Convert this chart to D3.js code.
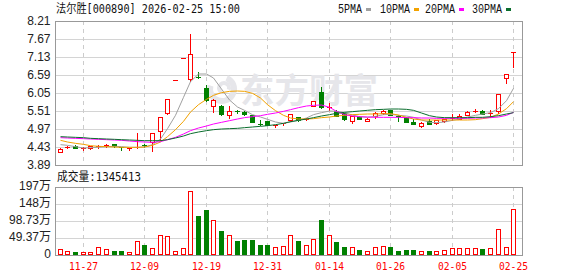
<!DOCTYPE html>
<html>
<head>
<meta charset="utf-8">
<script src="https://cdn.jsdelivr.net/npm/d3@7"></script>
<style>
  body { margin: 0; background: #fff; }
  svg { display: block; }
</style>
</head>
<body>
<div id="chart"></div>
<script>
// trading days shown on the chart
const dates = ['11-24','11-25','11-26','11-27','11-28','12-01','12-02','12-03','12-04','12-05',
  '12-08','12-09','12-10','12-11','12-12','12-15','12-16','12-17','12-18','12-19',
  '12-22','12-23','12-24','12-25','12-26','12-29','12-30','12-31','01-05','01-06',
  '01-07','01-08','01-09','01-12','01-13','01-14','01-15','01-16','01-19','01-20',
  '01-21','01-22','01-23','01-26','01-27','01-28','01-29','01-30','02-02','02-03',
  '02-04','02-05','02-06','02-09','02-10','02-11','02-12','02-13','02-24','02-25'];

// daily prices
const open = [4.27,4.41,4.46,4.38,4.39,4.43,4.45,4.51,4.43,4.38,
  4.41,4.50,4.59,4.91,5.44,6.45,7.10,6.47,6.52,6.19,
  5.67,5.66,5.39,5.50,5.49,5.39,5.13,5.21,5.07,5.12,
  5.24,5.32,5.25,5.67,6.09,5.62,5.52,5.44,5.22,5.34,
  5.22,5.37,5.44,5.54,5.37,5.32,5.17,5.07,5.20,5.14,
  5.21,5.26,5.28,5.40,5.50,5.52,5.44,5.50,6.50,7.27];
const high = [4.39,4.46,4.49,4.42,4.47,4.49,4.51,4.53,4.44,4.41,
  4.84,4.52,4.85,5.33,5.86,6.45,7.10,7.81,6.69,6.29,
  5.86,5.68,5.66,5.53,5.50,5.40,5.24,5.22,5.10,5.15,
  5.43,5.34,5.29,5.82,6.22,5.76,5.55,5.46,5.37,5.36,
  5.30,5.47,5.54,5.55,5.38,5.33,5.27,5.17,5.27,5.25,
  5.27,5.42,5.42,5.50,5.56,5.53,5.54,6.02,6.61,7.27];
const low = [4.27,4.39,4.39,4.35,4.38,4.41,4.42,4.44,4.33,4.34,
  4.39,4.43,4.31,4.63,5.43,6.45,7.10,6.42,6.51,5.82,
  5.47,5.40,5.31,5.44,5.40,5.17,5.10,5.09,5.04,5.10,
  5.22,5.21,5.24,5.66,5.60,5.54,5.36,5.24,5.14,5.26,
  5.21,5.31,5.43,5.38,5.20,5.18,5.12,5.04,5.11,5.12,
  5.19,5.25,5.27,5.38,5.47,5.41,5.34,5.45,6.34,6.82];
const close = [4.38,4.43,4.40,4.40,4.46,4.45,4.49,4.46,4.39,4.40,
  4.44,4.45,4.84,5.32,5.86,6.45,7.10,7.21,6.51,5.84,
  5.84,5.41,5.52,5.47,5.42,5.19,5.12,5.10,5.09,5.14,
  5.42,5.23,5.27,5.81,5.62,5.64,5.37,5.26,5.36,5.28,
  5.28,5.46,5.52,5.39,5.35,5.19,5.13,5.16,5.12,5.24,
  5.26,5.30,5.36,5.49,5.52,5.42,5.46,6.01,6.61,7.27];

// volume, in 万 shares
const volume = [16.5,10.7,8.7,7.8,7.8,22,16.5,11.6,11.6,7.8,
  39.6,30,19.3,57,54,10.7,19.3,184.5,113,130,
  100,69.5,57,40.5,43.5,43.5,29,29,22,25,
  57,40.5,28,45.4,101,57,37.7,23,22,14.5,
  10.7,22,25,23,11.6,14.5,14.5,10.7,11.6,10.7,
  13.5,19.3,19.3,19.3,19.3,17.4,19.3,74.5,22,134.5];

// moving averages as drawn
const ma5 = [4.50,4.48,4.44,4.40,4.41,4.42,4.44,4.45,4.44,4.42,
  4.42,4.43,4.50,4.67,4.98,5.38,5.92,6.39,6.62,6.62,
  6.50,6.17,5.84,5.63,5.53,5.40,5.33,5.26,5.18,5.14,
  5.18,5.23,5.30,5.40,5.46,5.51,5.50,5.46,5.39,5.34,
  5.32,5.35,5.40,5.41,5.38,5.36,5.32,5.24,5.17,5.16,
  5.18,5.23,5.27,5.33,5.38,5.42,5.46,5.58,5.82,6.19];
const ma10 = [4.63,4.58,4.54,4.51,4.47,4.45,4.44,4.43,4.42,4.42,
  4.42,4.43,4.48,4.58,4.74,4.95,5.20,5.48,5.70,5.86,
  5.98,6.06,6.10,6.11,6.10,6.04,5.90,5.70,5.52,5.38,
  5.30,5.27,5.27,5.28,5.31,5.33,5.36,5.38,5.40,5.41,
  5.42,5.42,5.43,5.43,5.39,5.32,5.27,5.24,5.24,5.24,
  5.24,5.24,5.24,5.24,5.25,5.28,5.32,5.42,5.58,5.79];
const ma20 = [4.71,4.70,4.69,4.68,4.67,4.66,4.65,4.64,4.63,4.61,
  4.59,4.58,4.57,4.59,4.65,4.72,4.82,4.92,5.00,5.06,
  5.12,5.17,5.22,5.27,5.31,5.34,5.37,5.41,5.45,5.50,
  5.55,5.61,5.66,5.68,5.69,5.62,5.50,5.40,5.36,5.34,
  5.33,5.32,5.32,5.32,5.32,5.31,5.31,5.30,5.30,5.29,
  5.29,5.29,5.29,5.29,5.30,5.30,5.31,5.33,5.38,5.47];
const ma30 = [4.74,4.73,4.72,4.71,4.69,4.68,4.67,4.66,4.65,4.64,
  4.63,4.62,4.62,4.62,4.65,4.70,4.76,4.83,4.88,4.92,
  4.95,4.97,4.98,4.99,5.01,5.03,5.05,5.07,5.10,5.14,
  5.19,5.23,5.27,5.31,5.36,5.40,5.44,5.47,5.49,5.51,
  5.53,5.55,5.56,5.57,5.57,5.56,5.53,5.45,5.37,5.33,
  5.31,5.31,5.31,5.31,5.32,5.32,5.34,5.37,5.42,5.46];

// axis ticks
const priceTicks = [3.89, 4.43, 4.97, 5.51, 6.05, 6.59, 7.13, 7.67, 8.21];
const volTicks = [0, 49.37, 98.73, 148, 197];
const volTickLabels = ['0', '49.37万', '98.73万', '148万', '197万'];
const dateTicks = ['11-27','12-09','12-19','12-31','01-14','01-26','02-05','02-25'];

// legend
const maNames = ['5PMA', '10PMA', '20PMA', '30PMA'];
const maColors = ['#a0a0a0', '#f2a200', '#ff00ff', '#0b6e2e'];

const RED = '#ff0000';
const GREEN = '#008000';

// layout
const width = 578, height = 276;
const left = 56, right = 522;
const priceTop = 21, priceBottom = 165;
const volTop = 187, volBottom = 255;

const svg = d3.select('#chart')
  .append('svg')
  .attr('width', width)
  .attr('height', height);

const x = d3.scaleBand()
  .domain(dates)
  .range([56.4, 517.56]);

const y = d3.scaleLinear()
  .domain([3.89, 8.21])
  .range([priceBottom, priceTop]);

const yv = d3.scaleLinear()
  .domain([0, 197])
  .range([volBottom, volTop]);

const cx = d => Math.floor(x(d) + x.bandwidth() / 2);
const ry = v => Math.round(y(v));

// colour of a day: body direction, or the previous close when open == close
const isUp = i => close[i] > open[i] || (close[i] === open[i] && (i === 0 || close[i] >= close[i - 1]));

// horizontal grid
svg.append('g')
  .selectAll('line')
  .data(priceTicks)
  .join('line')
  .attr('x1', left).attr('x2', right)
  .attr('y1', d => ry(d) + 0.5).attr('y2', d => ry(d) + 0.5)
  .attr('stroke', '#d4d4d4');

svg.append('g')
  .selectAll('line')
  .data(volTicks)
  .join('line')
  .attr('x1', left).attr('x2', right)
  .attr('y1', d => Math.round(yv(d)) + 0.5).attr('y2', d => Math.round(yv(d)) + 0.5)
  .attr('stroke', '#d4d4d4');

// vertical dashed grid at the date labels
[[priceTop, priceBottom], [volTop, volBottom]].forEach(([t, b]) => {
  svg.append('g')
    .selectAll('line')
    .data(dateTicks)
    .join('line')
    .attr('x1', d => cx(d) + 0.5).attr('x2', d => cx(d) + 0.5)
    .attr('y1', t).attr('y2', b)
    .attr('stroke', '#cccccc')
    .attr('stroke-dasharray', '4,4');
});

// watermark
const wm = svg.append('g').attr('fill', '#e6e6ea');
wm.append('path')
  .attr('transform', 'translate(222,89)')
  .attr('d', d3.arc()({ innerRadius: 9, outerRadius: 15, startAngle: 0.4, endAngle: 5.0 }));
wm.append('path')
  .attr('transform', 'translate(224,88)')
  .attr('d', d3.arc()({ innerRadius: 3, outerRadius: 7, startAngle: 3.6, endAngle: 8.2 }));
wm.append('text')
  .attr('x', 240).attr('y', 103)
  .attr('font-family', '"Noto Sans CJK SC", sans-serif')
  .attr('font-weight', 'bold')
  .attr('font-size', 34)
  .attr('textLength', 138)
  .attr('lengthAdjust', 'spacingAndGlyphs')
  .text('东方财富');

// candles
const idx = d3.range(dates.length);
const candles = svg.append('g');

candles.selectAll('.wick')
  .data(idx)
  .join('line')
  .attr('class', 'wick')
  .attr('x1', i => cx(dates[i]) + 0.5).attr('x2', i => cx(dates[i]) + 0.5)
  .attr('y1', i => ry(high[i])).attr('y2', i => ry(low[i]) + 1)
  .attr('stroke', i => isUp(i) ? RED : GREEN);

candles.selectAll('.body')
  .data(idx)
  .join('rect')
  .attr('class', 'body')
  .each(function (i) {
    const top = ry(Math.max(open[i], close[i]));
    const bot = ry(Math.min(open[i], close[i]));
    const c = cx(dates[i]);
    const el = d3.select(this);
    if (bot - top < 2) {
      // doji: flat bar
      el.attr('x', c - 2).attr('y', top).attr('width', 5).attr('height', 1)
        .attr('fill', isUp(i) ? RED : GREEN);
    } else if (isUp(i)) {
      el.attr('x', c - 1.5).attr('y', top + 0.5).attr('width', 4).attr('height', bot - top)
        .attr('fill', '#fff').attr('stroke', RED);
    } else {
      el.attr('x', c - 2).attr('y', top).attr('width', 5).attr('height', bot - top + 1)
        .attr('fill', GREEN);
    }
  });

// moving average lines
const maLine = d3.line()
  .x((d, i) => cx(dates[i]) + 0.5)
  .y(d => y(d));

svg.append('g')
  .selectAll('path')
  .data([ma5, ma10, ma20, ma30])
  .join('path')
  .attr('d', maLine)
  .attr('fill', 'none')
  .attr('stroke', (d, i) => maColors[i])
  .attr('stroke-width', 1);

// volume bars
svg.append('g')
  .selectAll('rect')
  .data(idx)
  .join('rect')
  .each(function (i) {
    const top = Math.round(yv(volume[i]));
    const c = cx(dates[i]);
    const el = d3.select(this);
    if (isUp(i)) {
      el.attr('x', c - 1.5).attr('y', top + 0.5).attr('width', 4).attr('height', volBottom - 1 - top)
        .attr('fill', '#fff').attr('stroke', RED);
    } else {
      el.attr('x', c - 2).attr('y', top).attr('width', 5).attr('height', volBottom - top)
        .attr('fill', GREEN);
    }
  });

// panel borders
[[priceTop, priceBottom], [volTop, volBottom]].forEach(([t, b]) => {
  svg.append('rect')
    .attr('x', left - 0.5).attr('y', t + 0.5)
    .attr('width', right - left + 1).attr('height', b - t)
    .attr('fill', 'none')
    .attr('stroke', '#999');
});

// price axis labels
const priceAxis = svg.append('g')
  .attr('transform', `translate(${left - 3},0)`)
  .call(d3.axisLeft(y).tickValues(priceTicks).tickFormat(d3.format('.2f')).tickSize(0));
priceAxis.select('.domain').remove();
priceAxis.selectAll('text')
  .attr('font-family', '"Liberation Sans", Arial, sans-serif')
  .attr('font-size', 12)
  .attr('fill', '#222')
  .attr('dx', 0.5);

// volume axis labels
const volAxis = svg.append('g')
  .attr('transform', `translate(${left - 2},0)`)
  .call(d3.axisLeft(yv).tickValues(volTicks).tickFormat((d, i) => volTickLabels[i]).tickSize(0));
volAxis.select('.domain').remove();
volAxis.selectAll('text')
  .attr('font-family', '"Liberation Sans", "Noto Sans CJK SC", sans-serif')
  .attr('font-size', 12)
  .attr('fill', '#222')
  .attr('dy', '0.2em');

// date labels
svg.append('g')
  .selectAll('text')
  .data(dateTicks)
  .join('text')
  .attr('x', d => cx(d) + 0.5)
  .attr('y', 270)
  .attr('text-anchor', 'middle')
  .attr('font-family', '"DejaVu Sans Mono", monospace')
  .attr('font-size', 11)
  .attr('textLength', 29)
  .attr('lengthAdjust', 'spacingAndGlyphs')
  .attr('fill', RED)
  .text(d => d);

// title
svg.append('text')
  .attr('x', 56).attr('y', 13)
  .attr('font-family', '"DejaVu Sans Mono", "Noto Sans CJK SC", monospace')
  .attr('font-size', 12)
  .attr('textLength', 184)
  .attr('lengthAdjust', 'spacingAndGlyphs')
  .attr('fill', '#111')
  .text('法尔胜[000890] 2026-02-25 15:00');

// volume caption
svg.append('text')
  .attr('x', 57).attr('y', 181)
  .attr('font-family', '"DejaVu Sans Mono", "Noto Sans CJK SC", monospace')
  .attr('font-size', 12)
  .attr('textLength', 84)
  .attr('lengthAdjust', 'spacingAndGlyphs')
  .attr('fill', '#111')
  .text('成交量:1345413');

// MA legend
const legendX = [338, 380, 425, 472];
const legend = svg.append('g');
maNames.forEach((name, i) => {
  legend.append('text')
    .attr('x', legendX[i]).attr('y', 13)
    .attr('font-family', '"Liberation Mono", monospace')
    .attr('font-size', 12)
    .attr('textLength', name.length * 6)
    .attr('lengthAdjust', 'spacingAndGlyphs')
    .attr('fill', '#111')
    .text(name);
  legend.append('rect')
    .attr('x', legendX[i] + name.length * 6 + 4).attr('y', 8)
    .attr('width', 5).attr('height', 3)
    .attr('fill', maColors[i]);
});
</script>
</body>
</html>
